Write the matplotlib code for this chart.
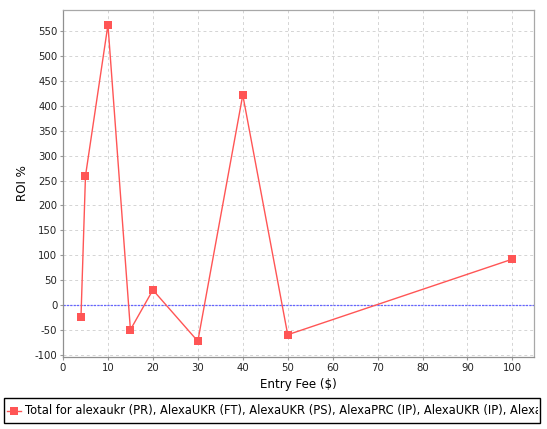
import matplotlib
matplotlib.use("Agg")
import matplotlib.pyplot as plt
from matplotlib.patches import Rectangle
from matplotlib.lines import Line2D
from matplotlib.transforms import Bbox

plt.rcParams["font.family"] = ["DejaVu Sans"]
plt.rcParams["axes.unicode_minus"] = False

# ROI by entry fee
entry_fee = [4, 5, 10, 15, 20, 30, 40, 50, 100]
roi = [-25, 259, 563, -50, 30, -73, 422, -60, 92]
series_name = ("Total for alexaukr (PR), AlexaUKR (FT), AlexaUKR (PS), "
               "AlexaPRC (IP), AlexaUKR (IP), AlexaUKR (ST), AlexaPRC (FT)")
x_ticks = list(range(0, 101, 10))
y_ticks = list(range(-100, 551, 50))

W, H = 547, 429
fig = plt.figure(figsize=(W / 100, H / 100), dpi=100)
fig.patch.set_facecolor("white")

left, right, top, bottom = 63, 534, 9.5, 357
ax = fig.add_axes([left / W, 1 - bottom / H, (right - left) / W, (bottom - top) / H])

red = "#FF5555"
ax.plot(entry_fee, roi, color=red, lw=1.0, marker="s", markersize=5.5,
        markeredgewidth=0, zorder=3)
ax.axhline(0, color="#6464FF", lw=0.9, linestyle=(0, (1.8, 0.9)), zorder=2)

ax.set_xlim(0, 104.8)
ax.set_ylim(-104.75, 593.75)
ax.set_xticks(x_ticks)
ax.set_yticks(y_ticks)
ax.grid(True, color="#D4D4D4", lw=0.7, linestyle=(0, (3, 3)))
ax.set_axisbelow(True)

for s in ["top", "right", "left", "bottom"]:
    ax.spines[s].set_color("#A8A8A8")
    ax.spines[s].set_linewidth(0.9)
ax.spines["left"].set_color("#909090")
ax.spines["bottom"].set_color("#909090")
ax.tick_params(axis="both", length=2, width=0.8, color="#999999",
               labelsize=7.3, labelcolor="#222222", pad=2)
ax.set_xlabel("Entry Fee ($)", fontsize=8.6, labelpad=4)
ax.set_ylabel("ROI %", fontsize=8.6, labelpad=4)

# legend box, text clipped at the right edge like the original
bx0, by0, bx1, by1 = 3.5, 398, 540, 423
fig.patches.append(Rectangle((bx0 / W, 1 - by1 / H), (bx1 - bx0) / W, (by1 - by0) / H,
                             transform=fig.transFigure, fill=False,
                             edgecolor="black", lw=1.0))
ly = 1 - 410.5 / H
fig.lines.append(Line2D([7 / W, 21 / W], [ly, ly], transform=fig.transFigure,
                        color=red, lw=1.0))
fig.lines.append(Line2D([14 / W], [ly], transform=fig.transFigure, color=red,
                        marker="s", markersize=5.5, markeredgewidth=0))
t = fig.text(25 / W, ly, series_name, fontsize=8.3, va="center", ha="left")
t.set_clip_box(Bbox([[bx0, 0], [538, H]]))
t.set_clip_on(True)

fig.savefig("out.png", dpi=100)
